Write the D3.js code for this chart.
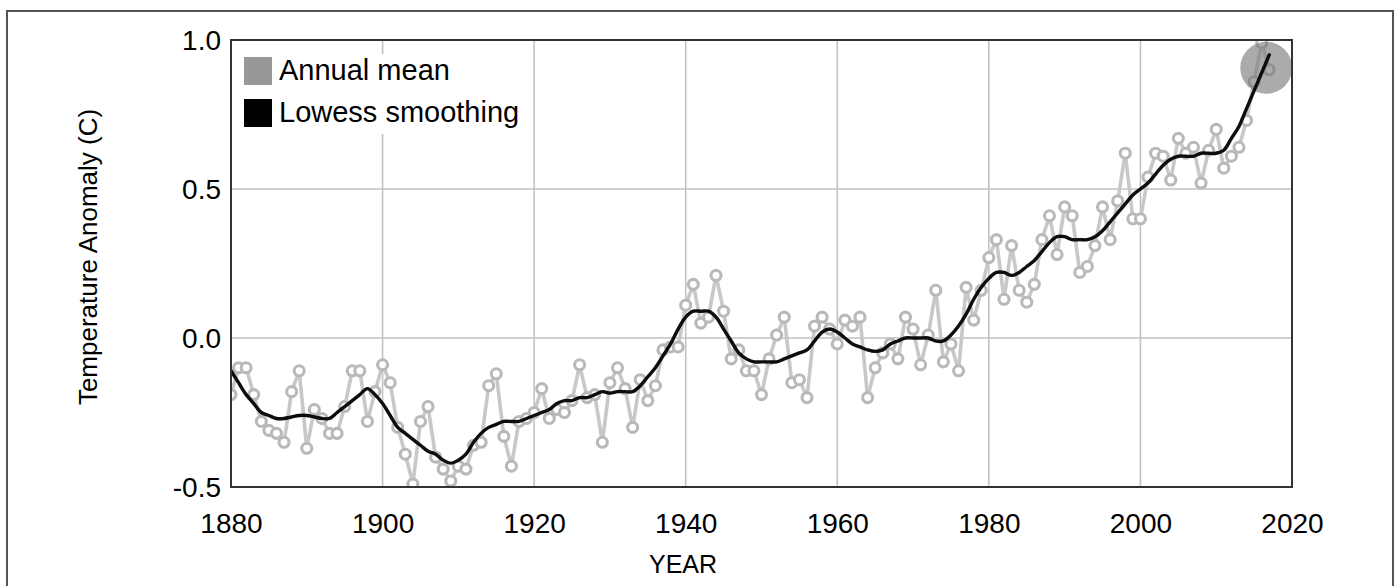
<!DOCTYPE html>
<html>
<head>
<meta charset="utf-8">
<script src="https://cdn.jsdelivr.net/npm/d3@7"></script>
<style>
  body { margin: 0; background: #fff; }
  svg text { font-family: "Liberation Sans", Arial, Helvetica, sans-serif; fill: #000; }
</style>
</head>
<body>
<div class="chart"></div>
<script>
const width = 1396;
const height = 586;

// GISS global temperature anomaly, 1880 onward
const firstYear = 1880;
const annualMean = [
  -0.19, -0.10, -0.10, -0.19, -0.28, -0.31, -0.32, -0.35, -0.18, -0.11,
  -0.37, -0.24, -0.27, -0.32, -0.32, -0.23, -0.11, -0.11, -0.28, -0.18,
  -0.09, -0.15, -0.30, -0.39, -0.49, -0.28, -0.23, -0.40, -0.44, -0.48,
  -0.43, -0.44, -0.36, -0.35, -0.16, -0.12, -0.33, -0.43, -0.28, -0.27,
  -0.25, -0.17, -0.27, -0.24, -0.25, -0.21, -0.09, -0.20, -0.19, -0.35,
  -0.15, -0.10, -0.17, -0.30, -0.14, -0.21, -0.16, -0.04, -0.03, -0.03,
   0.11,  0.18,  0.05,  0.07,  0.21,  0.09, -0.07, -0.04, -0.11, -0.11,
  -0.19, -0.07,  0.01,  0.07, -0.15, -0.14, -0.20,  0.04,  0.07,  0.03,
  -0.02,  0.06,  0.04,  0.07, -0.20, -0.10, -0.05, -0.02, -0.07,  0.07,
   0.03, -0.09,  0.01,  0.16, -0.08, -0.02, -0.11,  0.17,  0.06,  0.16,
   0.27,  0.33,  0.13,  0.31,  0.16,  0.12,  0.18,  0.33,  0.41,  0.28,
   0.44,  0.41,  0.22,  0.24,  0.31,  0.44,  0.33,  0.46,  0.62,  0.40,
   0.40,  0.54,  0.62,  0.61,  0.53,  0.67,  0.62,  0.64,  0.52,  0.63,
   0.70,  0.57,  0.61,  0.64,  0.73,  0.86,  0.99,  0.90
];
const lowess = [
  -0.11, -0.15, -0.19, -0.22, -0.25, -0.26, -0.27, -0.27, -0.265, -0.26,
  -0.26, -0.265, -0.27, -0.27, -0.25, -0.23, -0.21, -0.19, -0.17, -0.19,
  -0.22, -0.26, -0.30, -0.32, -0.34, -0.36, -0.38, -0.39, -0.41, -0.42,
  -0.41, -0.39, -0.35, -0.32, -0.30, -0.29, -0.28, -0.28, -0.28, -0.27,
  -0.26, -0.25, -0.24, -0.22, -0.21, -0.21, -0.20, -0.20, -0.19, -0.18,
  -0.185, -0.18, -0.18, -0.18, -0.16, -0.13, -0.10, -0.06, -0.02, 0.03,
   0.07,  0.09,  0.09,  0.09,  0.07,  0.03, -0.01, -0.05, -0.07, -0.08,
  -0.08, -0.08, -0.08, -0.07, -0.06, -0.05, -0.04, -0.01,  0.02,  0.03,
   0.02,  0.00, -0.02, -0.03, -0.04, -0.045, -0.04, -0.02, -0.01, 0.00,
   0.00,  0.00,  0.00, -0.01, -0.01,  0.01,  0.04,  0.08,  0.13,  0.17,
   0.20,  0.22,  0.22,  0.21,  0.22,  0.24,  0.26,  0.29,  0.32,  0.34,
   0.34,  0.33,  0.33,  0.33,  0.34,  0.36,  0.39,  0.42,  0.45,  0.48,
   0.50,  0.52,  0.55,  0.58,  0.60,  0.61,  0.61,  0.61,  0.62,  0.62,
   0.62,  0.63,  0.67,  0.71,  0.77,  0.83,  0.89,  0.95
];
const xTicks = [1880, 1900, 1920, 1940, 1960, 1980, 2000, 2020];
const yTicks = [-0.5, 0.0, 0.5, 1.0];
const legendItems = ["Annual mean", "Lowess smoothing"];

const annualData = annualMean.map((v, i) => ({year: firstYear + i, value: v}));
const smoothData = lowess.map((v, i) => ({year: firstYear + i, value: v}));

let svg = d3.select(".chart")
    .append("svg")
    .attr("width", width)
    .attr("height", height);

// outer frame of the figure (bottom runs off the page)
svg.append("rect")
    .attr("x", 7).attr("y", 11)
    .attr("width", 1386).attr("height", 600)
    .attr("fill", "none")
    .attr("stroke", "#555")
    .attr("stroke-width", 2);

let x = d3.scaleLinear().domain([1880, 2020]).range([231, 1292]);
let y = d3.scaleLinear().domain([-0.5, 1.0]).range([487, 40]);

let defs = svg.append("defs");
defs.append("clipPath").attr("id", "plotclip")
    .append("rect")
    .attr("x", x(1880)).attr("y", y(1.0))
    .attr("width", x(2020) - x(1880)).attr("height", y(-0.5) - y(1.0));
defs.append("filter").attr("id", "soft")
    .append("feGaussianBlur").attr("stdDeviation", 0.75);

// grid
svg.append("g")
    .selectAll("line.v")
    .data(xTicks.slice(1, -1))
    .enter().append("line")
    .attr("x1", d => x(d)).attr("x2", d => x(d))
    .attr("y1", y(1.0)).attr("y2", y(-0.5))
    .attr("stroke", "#c2c2c2").attr("stroke-width", 1.6);
svg.append("g")
    .selectAll("line.h")
    .data(yTicks.slice(1, -1))
    .enter().append("line")
    .attr("x1", x(1880)).attr("x2", x(2020))
    .attr("y1", d => y(d)).attr("y2", d => y(d))
    .attr("stroke", "#c2c2c2").attr("stroke-width", 1.6);

// legend background hides grid behind it
svg.append("rect")
    .attr("x", 238).attr("y", 54)
    .attr("width", 292).attr("height", 80)
    .attr("fill", "#fff");

let plot = svg.append("g").attr("clip-path", "url(#plotclip)");
let data = plot.append("g").attr("filter", "url(#soft)");

let annualLine = d3.line().x(d => x(d.year)).y(d => y(d.value));

data.append("path")
    .datum(annualData)
    .attr("d", annualLine)
    .attr("fill", "none")
    .attr("stroke", "#c8c8c8")
    .attr("stroke-width", 3.6)
    .attr("stroke-linejoin", "round");

data.selectAll("circle.pt")
    .data(annualData)
    .enter().append("circle")
    .attr("class", "pt")
    .attr("cx", d => x(d.year))
    .attr("cy", d => y(d.value))
    .attr("r", 5)
    .attr("fill", "#fff")
    .attr("stroke", "#b9b9b9")
    .attr("stroke-width", 3.1);

// highlight on the latest year
let last = annualData[annualData.length - 1];
data.append("circle")
    .attr("cx", x(last.year) - 3)
    .attr("cy", y(last.value) - 2)
    .attr("r", 26)
    .attr("fill", "#777")
    .attr("fill-opacity", 0.62);

let smoothLine = d3.line()
    .x(d => x(d.year)).y(d => y(d.value))
    .curve(d3.curveCatmullRom);

data.append("path")
    .datum(smoothData)
    .attr("d", smoothLine)
    .attr("fill", "none")
    .attr("stroke", "#0a0a0a")
    .attr("stroke-width", 3.4)
    .attr("stroke-linejoin", "round")
    .attr("stroke-linecap", "round");

// plot frame
svg.append("rect")
    .attr("x", x(1880)).attr("y", y(1.0))
    .attr("width", x(2020) - x(1880)).attr("height", y(-0.5) - y(1.0))
    .attr("fill", "none")
    .attr("stroke", "#333")
    .attr("stroke-width", 2);

// axes
let xAxis = svg.append("g")
    .attr("transform", `translate(0,${y(-0.5)})`)
    .call(d3.axisBottom(x).tickValues(xTicks).tickFormat(d3.format("d")).tickSize(0).tickPadding(26));
xAxis.select(".domain").remove();
xAxis.selectAll("text").style("font-size", "28px");

let yAxis = svg.append("g")
    .attr("transform", `translate(${x(1880)},0)`)
    .call(d3.axisLeft(y).tickValues(yTicks)
        .tickFormat(d => d3.format(".1f")(d).replace("\u2212", "-"))
        .tickSize(0).tickPadding(10));
yAxis.select(".domain").remove();
yAxis.selectAll("text").style("font-size", "28px").attr("dy", "0.33em");

svg.append("text")
    .attr("x", 683).attr("y", 573)
    .attr("text-anchor", "middle")
    .style("font-size", "25px")
    .text("YEAR");

svg.append("text")
    .attr("transform", "translate(97,257) rotate(-90)")
    .attr("text-anchor", "middle")
    .style("font-size", "26px")
    .text("Temperature Anomaly (C)");

// legend
let legend = svg.append("g");
legend.selectAll("rect.key")
    .data(legendItems)
    .enter().append("rect")
    .attr("x", 244)
    .attr("y", (d, i) => 57 + i * 42)
    .attr("width", 28).attr("height", 28)
    .attr("fill", (d, i) => i === 0 ? "#98989b" : "#000");
legend.selectAll("text")
    .data(legendItems)
    .enter().append("text")
    .attr("x", 279)
    .attr("y", (d, i) => 80 + i * 42)
    .style("font-size", "29px")
    .text(d => d);
</script>
</body>
</html>
